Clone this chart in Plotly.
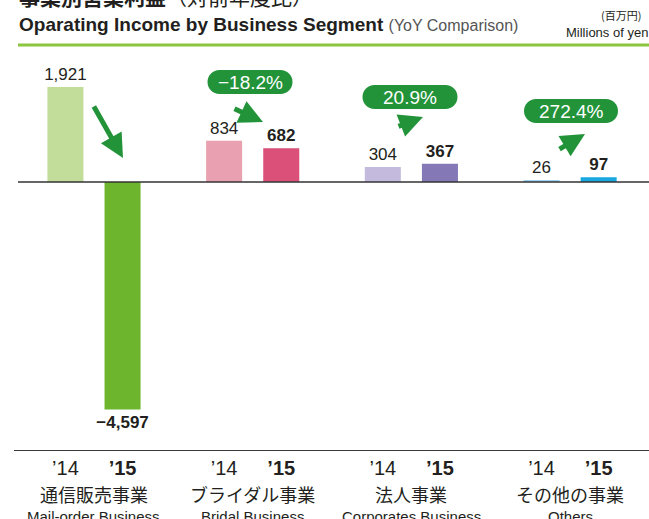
import plotly.graph_objects as go

# ---- data ----
categories_jp = ["通信販売事業", "ブライダル事業", "法人事業", "その他の事業"]
categories_en = ["Mail-order Business", "Bridal Business", "Corporates Business", "Others"]
fy14 = [1921, 834, 304, 26]
fy15 = [-4597, 682, 367, 97]
yoy_labels = [None, "−18.2%", "20.9%", "272.4%"]
year_labels = ["\u201914", "\u201915"]

colors14 = ["#c2dc9a", "#e9a1b1", "#c3badd", "#9fd3ef"]
colors15 = ["#6cb52d", "#da5078", "#8479b6", "#18a7e0"]

GREEN = "#23933a"
TXT = "#231f20"
FONT = "Liberation Sans, Noto Sans CJK JP, sans-serif"
JPFONT = "Noto Sans CJK JP, Liberation Sans, sans-serif"

OFF = 0.18
BW = 0.227
groups = list(range(len(categories_jp)))
x14 = [g - OFF for g in groups]
x15 = [g + OFF for g in groups]

def fmt(v):
    return f"{v:,}".replace("-", "−")

fig = go.Figure()
fig.add_bar(x=x14, y=fy14, width=BW, marker=dict(color=colors14, line=dict(width=0)),
            text=[fmt(v) for v in fy14], textposition="outside",
            textfont=dict(size=17, color=TXT, family=FONT), constraintext="none",
            cliponaxis=False, hoverinfo="skip")
fig.add_bar(x=x15, y=fy15, width=BW, marker=dict(color=colors15, line=dict(width=0)),
            text=[f"<b>{fmt(v)}</b>" for v in fy15], textposition="outside",
            textfont=dict(size=17, color=TXT, family=FONT), constraintext="none",
            cliponaxis=False, hoverinfo="skip")

# plot geometry (pixels) used to place decorations
X0, XMIN, PXU = 14, -0.504, 158.7
Y0PX, YPXU = 182, 0.0495
def dx(px):
    return XMIN + (px - X0) / PXU
def dy(py):
    return (Y0PX - py) / YPXU

# arrows (tail -> tip, pixel positions)
arrows = [((93, 105), (123, 158)), ((233, 108), (263, 122)),
          ((397, 127), (423, 117)), ((558, 150), (585, 134))]
for (tx, ty), (hx, hy) in arrows:
    fig.add_annotation(x=dx(hx), y=dy(hy), ax=dx(tx), ay=dy(ty), xref="x", yref="y",
                       axref="x", ayref="y", showarrow=True, arrowhead=2, arrowsize=0.95,
                       arrowwidth=5, arrowcolor=GREEN, text="", standoff=0)

# pills
pills = [(250, 82, 85), (410, 97, 95), (571, 111, 94)]
def pill_path(w, h):
    r = h / 2
    k = 0.5523 * r
    a = w / 2 - r
    return (f"M {-a},{-r} L {a},{-r} C {a+k},{-r} {a+r},{-k} {a+r},0 "
            f"C {a+r},{k} {a+k},{r} {a},{r} L {-a},{r} "
            f"C {-a-k},{r} {-a-r},{k} {-a-r},0 C {-a-r},{-k} {-a-k},{-r} {-a},{-r} Z")
for (cx, cy, w), lab in zip(pills, yoy_labels[1:]):
    fig.add_shape(type="path", xsizemode="pixel", ysizemode="pixel",
                  xanchor=dx(cx), yanchor=dy(cy), xref="x", yref="y",
                  path=pill_path(w, 24), fillcolor=GREEN, line=dict(width=0))
    fig.add_annotation(x=dx(cx), y=dy(cy), xref="x", yref="y", text=lab, showarrow=False,
                       font=dict(size=19, color="white", family=FONT))

# zero line
fig.add_shape(type="line", xref="paper", yref="y", x0=(18 - 14) / 635, x1=1, y0=0, y1=0,
              line=dict(color="#333333", width=1.5))

# category labels
def py_paper(py):
    return (450 - py) / 400
for g in groups:
    fig.add_annotation(x=g, y=py_paper(494), xref="x", yref="paper", yanchor="middle",
                       text=categories_jp[g], showarrow=False,
                       font=dict(size=18, color=TXT, family=JPFONT))
    fig.add_annotation(x=g, y=py_paper(516), xref="x", yref="paper", yanchor="middle",
                       text=categories_en[g], showarrow=False,
                       font=dict(size=15, color=TXT, family=FONT))

# titles
fig.add_annotation(x=(17 - 14) / 635, y=py_paper(-4), xref="paper", yref="paper",
                   xanchor="left", yanchor="middle",
                   text="<b>事業別営業利益</b>（対前年度比）", showarrow=False,
                   font=dict(size=21, color=TXT, family=JPFONT))
fig.add_annotation(x=(17 - 14) / 635, y=py_paper(24), xref="paper", yref="paper",
                   xanchor="left", yanchor="middle",
                   text="<b>Oparating Income by Business Segment</b> <span style='font-size:16px;color:#555'>(YoY Comparison)</span>",
                   showarrow=False, font=dict(size=19, color=TXT, family=FONT))
fig.add_annotation(x=(642 - 14) / 635, y=py_paper(15), xref="paper", yref="paper",
                   xanchor="right", yanchor="middle", borderpad=0,
                   text="(百万円)", showarrow=False, font=dict(size=11, color=TXT, family=JPFONT))
fig.add_annotation(x=1.0, y=py_paper(32), xref="paper", yref="paper",
                   xanchor="right", yanchor="middle", borderpad=0,
                   text="Millions of yen", showarrow=False, font=dict(size=13, color=TXT, family=FONT))
fig.add_shape(type="line", xref="paper", yref="paper", x0=(18 - 14) / 635, x1=1,
              y0=py_paper(45), y1=py_paper(45), line=dict(color="#8cc63f", width=3))

tickvals = x14 + x15
ticktext = [year_labels[0]] * 4 + [f"<b>{year_labels[1]}</b>"] * 4

fig.update_layout(
    width=649, height=519, margin=dict(l=14, r=0, t=50, b=69),
    plot_bgcolor="white", paper_bgcolor="white", showlegend=False, barmode="overlay",
    xaxis=dict(range=[XMIN, XMIN + 635 / PXU], showgrid=False, zeroline=False,
               showline=True, linecolor="#3a3a3a", linewidth=1,
               tickvals=tickvals, ticktext=ticktext, ticks="",
               tickfont=dict(size=20, color=TXT, family=FONT)),
    yaxis=dict(range=[dy(450), dy(50)], showgrid=False, zeroline=False, showticklabels=False,
               ticks="", showline=False),
)

fig.write_html("out.html", config={"displayModeBar": False},
               post_script="document.body.style.margin='0';document.body.style.overflow='hidden';")
